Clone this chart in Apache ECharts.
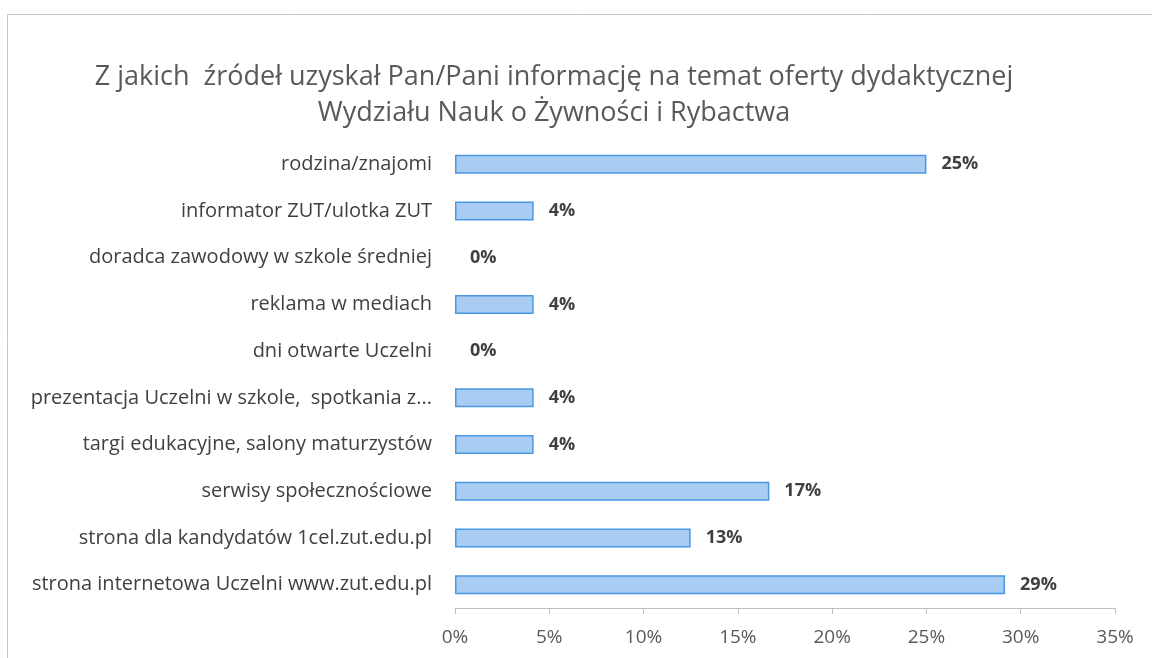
<!DOCTYPE html>
<html lang="pl">
<head>
    <meta charset="UTF-8">
    <title>Źródła informacji</title>
    <style>
        * {
            margin: 0px;
            padding: 0px;
        }

        body {
            background-color: #ffffff;
        }

        #main {
            width: 1152px;
            height: 658px;
        }
    </style>
</head>
<body>
<div id="main"></div>

<script src="https://cdn.jsdelivr.net/npm/echarts@6/dist/echarts.min.js"></script>
<script type="text/javascript">
    // dane (udział w %)
    var categories = [
        'rodzina/znajomi',
        'informator ZUT/ulotka ZUT',
        'doradca zawodowy w szkole średniej',
        'reklama w mediach',
        'dni otwarte Uczelni',
        'prezentacja Uczelni w szkole,  spotkania z...',
        'targi edukacyjne, salony maturzystów',
        'serwisy społecznościowe',
        'strona dla kandydatów 1cel.zut.edu.pl',
        'strona internetowa Uczelni www.zut.edu.pl'
    ];
    var values = [25, 4.17, 0, 4.17, 0, 4.17, 4.17, 16.67, 12.5, 29.17];
    var xTicks = [0, 5, 10, 15, 20, 25, 30, 35];

    var font = 'Open Sans';
    var myChart = echarts.init(document.getElementById('main'));
    myChart.setOption({
        animation: false,
        title: {
            text: 'Z jakich  źródeł uzyskał Pan/Pani informację na temat oferty dydaktycznej\nWydziału Nauk o Żywności i Rybactwa',
            left: 549,
            top: 54,
            textAlign: 'center',
            textStyle: {
                fontFamily: font,
                fontWeight: 'normal',
                fontSize: 27,
                lineHeight: 36,
                color: '#595959'
            }
        },
        graphic: [{
            type: 'rect',
            shape: {x: 7.5, y: 14.5, width: 1200, height: 700},
            style: {fill: 'none', stroke: '#c8c8c8', lineWidth: 1}
        }],
        grid: {
            left: 455,
            right: 37,
            top: 141,
            bottom: 50
        },
        xAxis: {
            type: 'value',
            min: xTicks[0],
            max: xTicks[xTicks.length - 1],
            interval: 5,
            splitLine: {show: false},
            axisLine: {show: true, lineStyle: {color: '#bfbfbf'}},
            axisTick: {show: true, length: 6, lineStyle: {color: '#bfbfbf'}},
            axisLabel: {
                fontFamily: font,
                fontSize: 19,
                color: '#595959',
                margin: 20,
                formatter: '{value}%'
            }
        },
        yAxis: {
            type: 'category',
            inverse: true,
            data: categories,
            axisLine: {show: false},
            axisTick: {show: false},
            axisLabel: {
                fontFamily: font,
                fontSize: 20,
                color: '#404040',
                margin: 23
            }
        },
        series: [{
            type: 'bar',
            // przy 0% bez obramowania (brak słupka)
            data: values.map(function (v) {
                return v === 0 ? {value: v, itemStyle: {borderWidth: 0}} : v;
            }),
            barWidth: 19,
            itemStyle: {
                color: '#a9cdf2',
                borderColor: '#4a97e3',
                borderWidth: 1.5
            },
            label: {
                show: true,
                position: 'right',
                distance: 15,
                fontFamily: font,
                fontWeight: 'bold',
                fontSize: 18,
                color: '#404040',
                formatter: function (p) {
                    return Math.round(p.value) + '%';
                }
            }
        }]
    });
</script>
</body>
</html>
